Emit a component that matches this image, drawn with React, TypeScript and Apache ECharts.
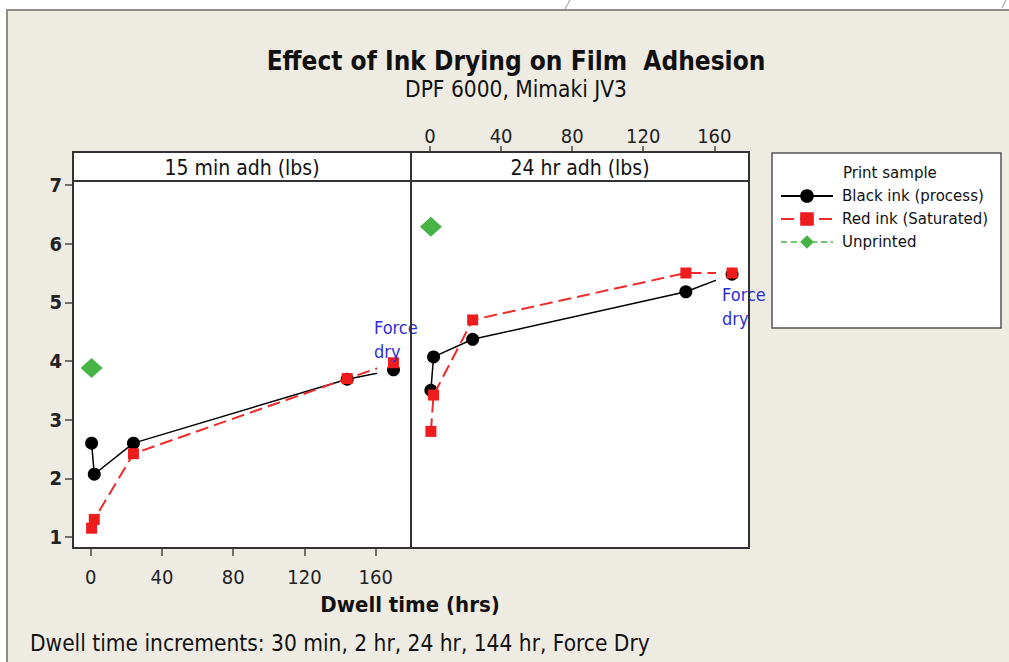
import React, { useEffect, useRef } from "react";
import * as echarts from "echarts";

const dwellTimes = [0.5, 2, 24, 144, 170];
const black15 = [2.6, 2.07, 2.6, 3.69, 3.85];
const red15 = [1.15, 1.3, 2.42, 3.7, 3.97];
const unprinted15 = [3.88];
const black24 = [3.5, 4.07, 4.37, 5.18, 5.48];
const red24 = [2.8, 3.42, 4.7, 5.5, 5.5];
const unprinted24 = [6.29];
const unprintedTimes = [0.5];
const panelTitles = ["15 min adh (lbs)", "24 hr adh (lbs)"];
const seriesNames = ["Black ink (process)", "Red ink (Saturated)", "Unprinted"];
const xTicks = { min: 0, max: 160, interval: 40 };
const yTicks = { min: 1, max: 7, interval: 1 };

const FONT = "'DejaVu Sans Condensed', 'DejaVu Sans', sans-serif";
const FONT_WIDE = "'DejaVu Sans', sans-serif";
const BLUE = "#2d2dd8";

function pairs(xs: number[], ys: number[]) {
  return xs.map((x, i) => [x, ys[i]]);
}

export default function App() {
  const ref = useRef<HTMLDivElement>(null);
  useEffect(() => {
    if (!ref.current) return;
    const chart = echarts.init(ref.current, null, { renderer: "svg" });

    const blackStyle = {
      type: "line",
      name: seriesNames[0],
      symbol: "circle",
      symbolSize: 13,
      itemStyle: { color: "#000" },
      lineStyle: { color: "#000", width: 1.5 },
      clip: false,
      z: 3,
    };
    const redStyle = {
      type: "line",
      name: seriesNames[1],
      symbol: "rect",
      symbolSize: 11,
      itemStyle: { color: "#ee1c1c" },
      lineStyle: { color: "#ee2a2a", width: 2, type: [13, 6] },
      clip: false,
      z: 4,
    };
    const greenStyle = {
      type: "line",
      name: seriesNames[2],
      symbol: "diamond",
      symbolSize: [22, 20],
      itemStyle: { color: "#45b445" },
      lineStyle: { color: "#6ccb6c", width: 1.5, type: [6, 4] },
      clip: false,
      z: 3,
    };

    const fdLabel = (pos: number[]) => ({
      show: true,
      formatter: "Force\ndry",
      position: pos,
      align: "left",
      verticalAlign: "top",
      color: BLUE,
      fontSize: 18,
      lineHeight: 24,
      fontFamily: FONT,
    });

    const withFDLabel = (xs: number[], ys: number[], pos: number[]) =>
      xs.map((x, i) =>
        i === xs.length - 1 ? { value: [x, ys[i]], label: fdLabel(pos) } : { value: [x, ys[i]] }
      );

    const panelL = { x: 73, y: 152, w: 338, h: 396, strip: 29 };
    const panelR = { x: 411, y: 152, w: 338, h: 396, strip: 29 };

    const tickStyle = { color: "#444", width: 1.5 };

    const option: any = {
      animation: false,
      backgroundColor: "#eeebe2",
      textStyle: { fontFamily: FONT },
      grid: [
        { left: 90.7, top: 185, width: 285, height: 352 },
        { left: 430, top: 185, width: 284.3, height: 352 },
        { left: 73, top: 185, width: 1, height: 352 },
      ],
      xAxis: [
        {
          gridIndex: 0,
          type: "value",
          position: "bottom",
          ...xTicks,
          offset: 11,
          axisLine: { show: false },
          axisTick: { show: true, length: 8, lineStyle: tickStyle },
          axisLabel: { color: "#222", fontSize: 20, margin: 19, fontFamily: FONT },
          splitLine: { show: false },
        },
        {
          gridIndex: 1,
          type: "value",
          position: "top",
          ...xTicks,
          offset: 33,
          axisLine: { show: false },
          axisTick: { show: true, length: 6, lineStyle: tickStyle },
          axisLabel: { color: "#222", fontSize: 20, margin: 6, fontFamily: FONT },
          splitLine: { show: false },
        },
        { gridIndex: 2, type: "value", min: 0, max: 1, show: false },
      ],
      yAxis: [
        { gridIndex: 0, type: "value", ...yTicks, show: false },
        { gridIndex: 1, type: "value", ...yTicks, show: false },
        {
          gridIndex: 2,
          type: "value",
          position: "left",
          ...yTicks,
          axisLine: { show: false },
          axisTick: { show: true, length: 8, lineStyle: tickStyle },
          axisLabel: { color: "#222", fontSize: 20, fontWeight: "bold", margin: 11, fontFamily: FONT },
          splitLine: { show: false },
        },
      ],
      legend: {
        orient: "vertical",
        left: 780,
        top: 188.5,
        itemWidth: 52,
        itemHeight: 17,
        itemGap: 8,
        padding: 0,
        data: seriesNames,
        textStyle: {
          fontSize: 15,
          lineHeight: 14,
          color: "#111",
          fontFamily: FONT_WIDE,
          padding: [0, 0, 0, 4],
        },
      },
      series: [
        { ...blackStyle, xAxisIndex: 0, yAxisIndex: 0, data: pairs(dwellTimes, black15) },
        {
          ...redStyle,
          xAxisIndex: 0,
          yAxisIndex: 0,
          data: withFDLabel(dwellTimes, red15, [-14, -42]),
        },
        { ...greenStyle, xAxisIndex: 0, yAxisIndex: 0, data: pairs(unprintedTimes, unprinted15) },
        { ...blackStyle, xAxisIndex: 1, yAxisIndex: 1, data: pairs(dwellTimes, black24) },
        {
          ...redStyle,
          xAxisIndex: 1,
          yAxisIndex: 1,
          data: withFDLabel(dwellTimes, red24, [-4.5, 14.5]),
        },
        { ...greenStyle, xAxisIndex: 1, yAxisIndex: 1, data: pairs(unprintedTimes, unprinted24) },
      ],
      graphic: [
        // page edges
        { type: "rect", z: -20, shape: { x: 0, y: 0, width: 1009, height: 9 }, style: { fill: "#fff" } },
        { type: "rect", z: -20, shape: { x: 0, y: 0, width: 6, height: 662 }, style: { fill: "#fff" } },
        { type: "rect", z: -19, shape: { x: 6, y: 9, width: 1003, height: 2 }, style: { fill: "#8e8c84" } },
        { type: "rect", z: -19, shape: { x: 6, y: 9, width: 2, height: 653 }, style: { fill: "#8e8c84" } },
        { type: "line", z: -19, shape: { x1: 570, y1: 0, x2: 565, y2: 9 }, style: { stroke: "#b8b8b8", lineWidth: 1.5 } },
        { type: "line", z: -19, shape: { x1: 1006, y1: 0, x2: 1002, y2: 8 }, style: { stroke: "#b8b8b8", lineWidth: 1.5 } },
        // panel backgrounds
        ...[panelL, panelR].map((p) => ({
          type: "rect",
          z: -10,
          shape: { x: p.x, y: p.y, width: p.w, height: p.h },
          style: { fill: "#fff" },
        })),
        // legend box
        {
          type: "rect",
          z: -10,
          shape: { x: 772, y: 153, width: 229, height: 175 },
          style: { fill: "#fff", stroke: "#555", lineWidth: 1.5 },
        },
        {
          type: "text",
          x: 843,
          y: 173,
          style: {
            text: "Print sample",
            fontSize: 15,
            fill: "#111",
            verticalAlign: "middle",
            fontFamily: FONT_WIDE,
          },
        },
        // panel frames
        ...[panelL, panelR].flatMap((p, i) => [
          {
            type: "rect",
            z: 20,
            shape: { x: p.x, y: p.y, width: p.w, height: p.h },
            style: { fill: "none", stroke: "#333", lineWidth: 2 },
          },
          {
            type: "line",
            z: 20,
            shape: { x1: p.x, y1: p.y + p.strip, x2: p.x + p.w, y2: p.y + p.strip },
            style: { stroke: "#333", lineWidth: 2 },
          },
          {
            type: "text",
            z: 20,
            x: p.x + p.w / 2,
            y: p.y + p.strip / 2 + 1,
            style: {
              text: panelTitles[i],
              fontSize: 21,
              fill: "#111",
              align: "center",
              verticalAlign: "middle",
              fontFamily: FONT,
            },
          },
        ]),
        // titles
        {
          type: "text",
          x: 516,
          y: 61,
          style: {
            text: "Effect of Ink Drying on Film  Adhesion",
            fontSize: 26,
            fontWeight: "bold",
            fill: "#111",
            align: "center",
            verticalAlign: "middle",
            fontFamily: FONT,
          },
        },
        {
          type: "text",
          x: 516,
          y: 89,
          style: {
            text: "DPF 6000, Mimaki JV3",
            fontSize: 22.5,
            fill: "#111",
            align: "center",
            verticalAlign: "middle",
            fontFamily: FONT,
          },
        },
        {
          type: "text",
          x: 410,
          y: 604,
          style: {
            text: "Dwell time (hrs)",
            fontSize: 22,
            fontWeight: "bold",
            fill: "#111",
            align: "center",
            verticalAlign: "middle",
            fontFamily: FONT,
          },
        },
        {
          type: "text",
          x: 30,
          y: 643,
          style: {
            text: "Dwell time increments: 30 min, 2 hr, 24 hr, 144 hr, Force Dry",
            fontSize: 22.5,
            fill: "#111",
            align: "left",
            verticalAlign: "middle",
            fontFamily: FONT,
          },
        },
      ],
    };

    chart.setOption(option);
    return () => chart.dispose();
  }, []);

  return (
    <div
      ref={ref}
      style={{ position: "fixed", left: 0, top: 0, width: 1009, height: 662 }}
    />
  );
}
